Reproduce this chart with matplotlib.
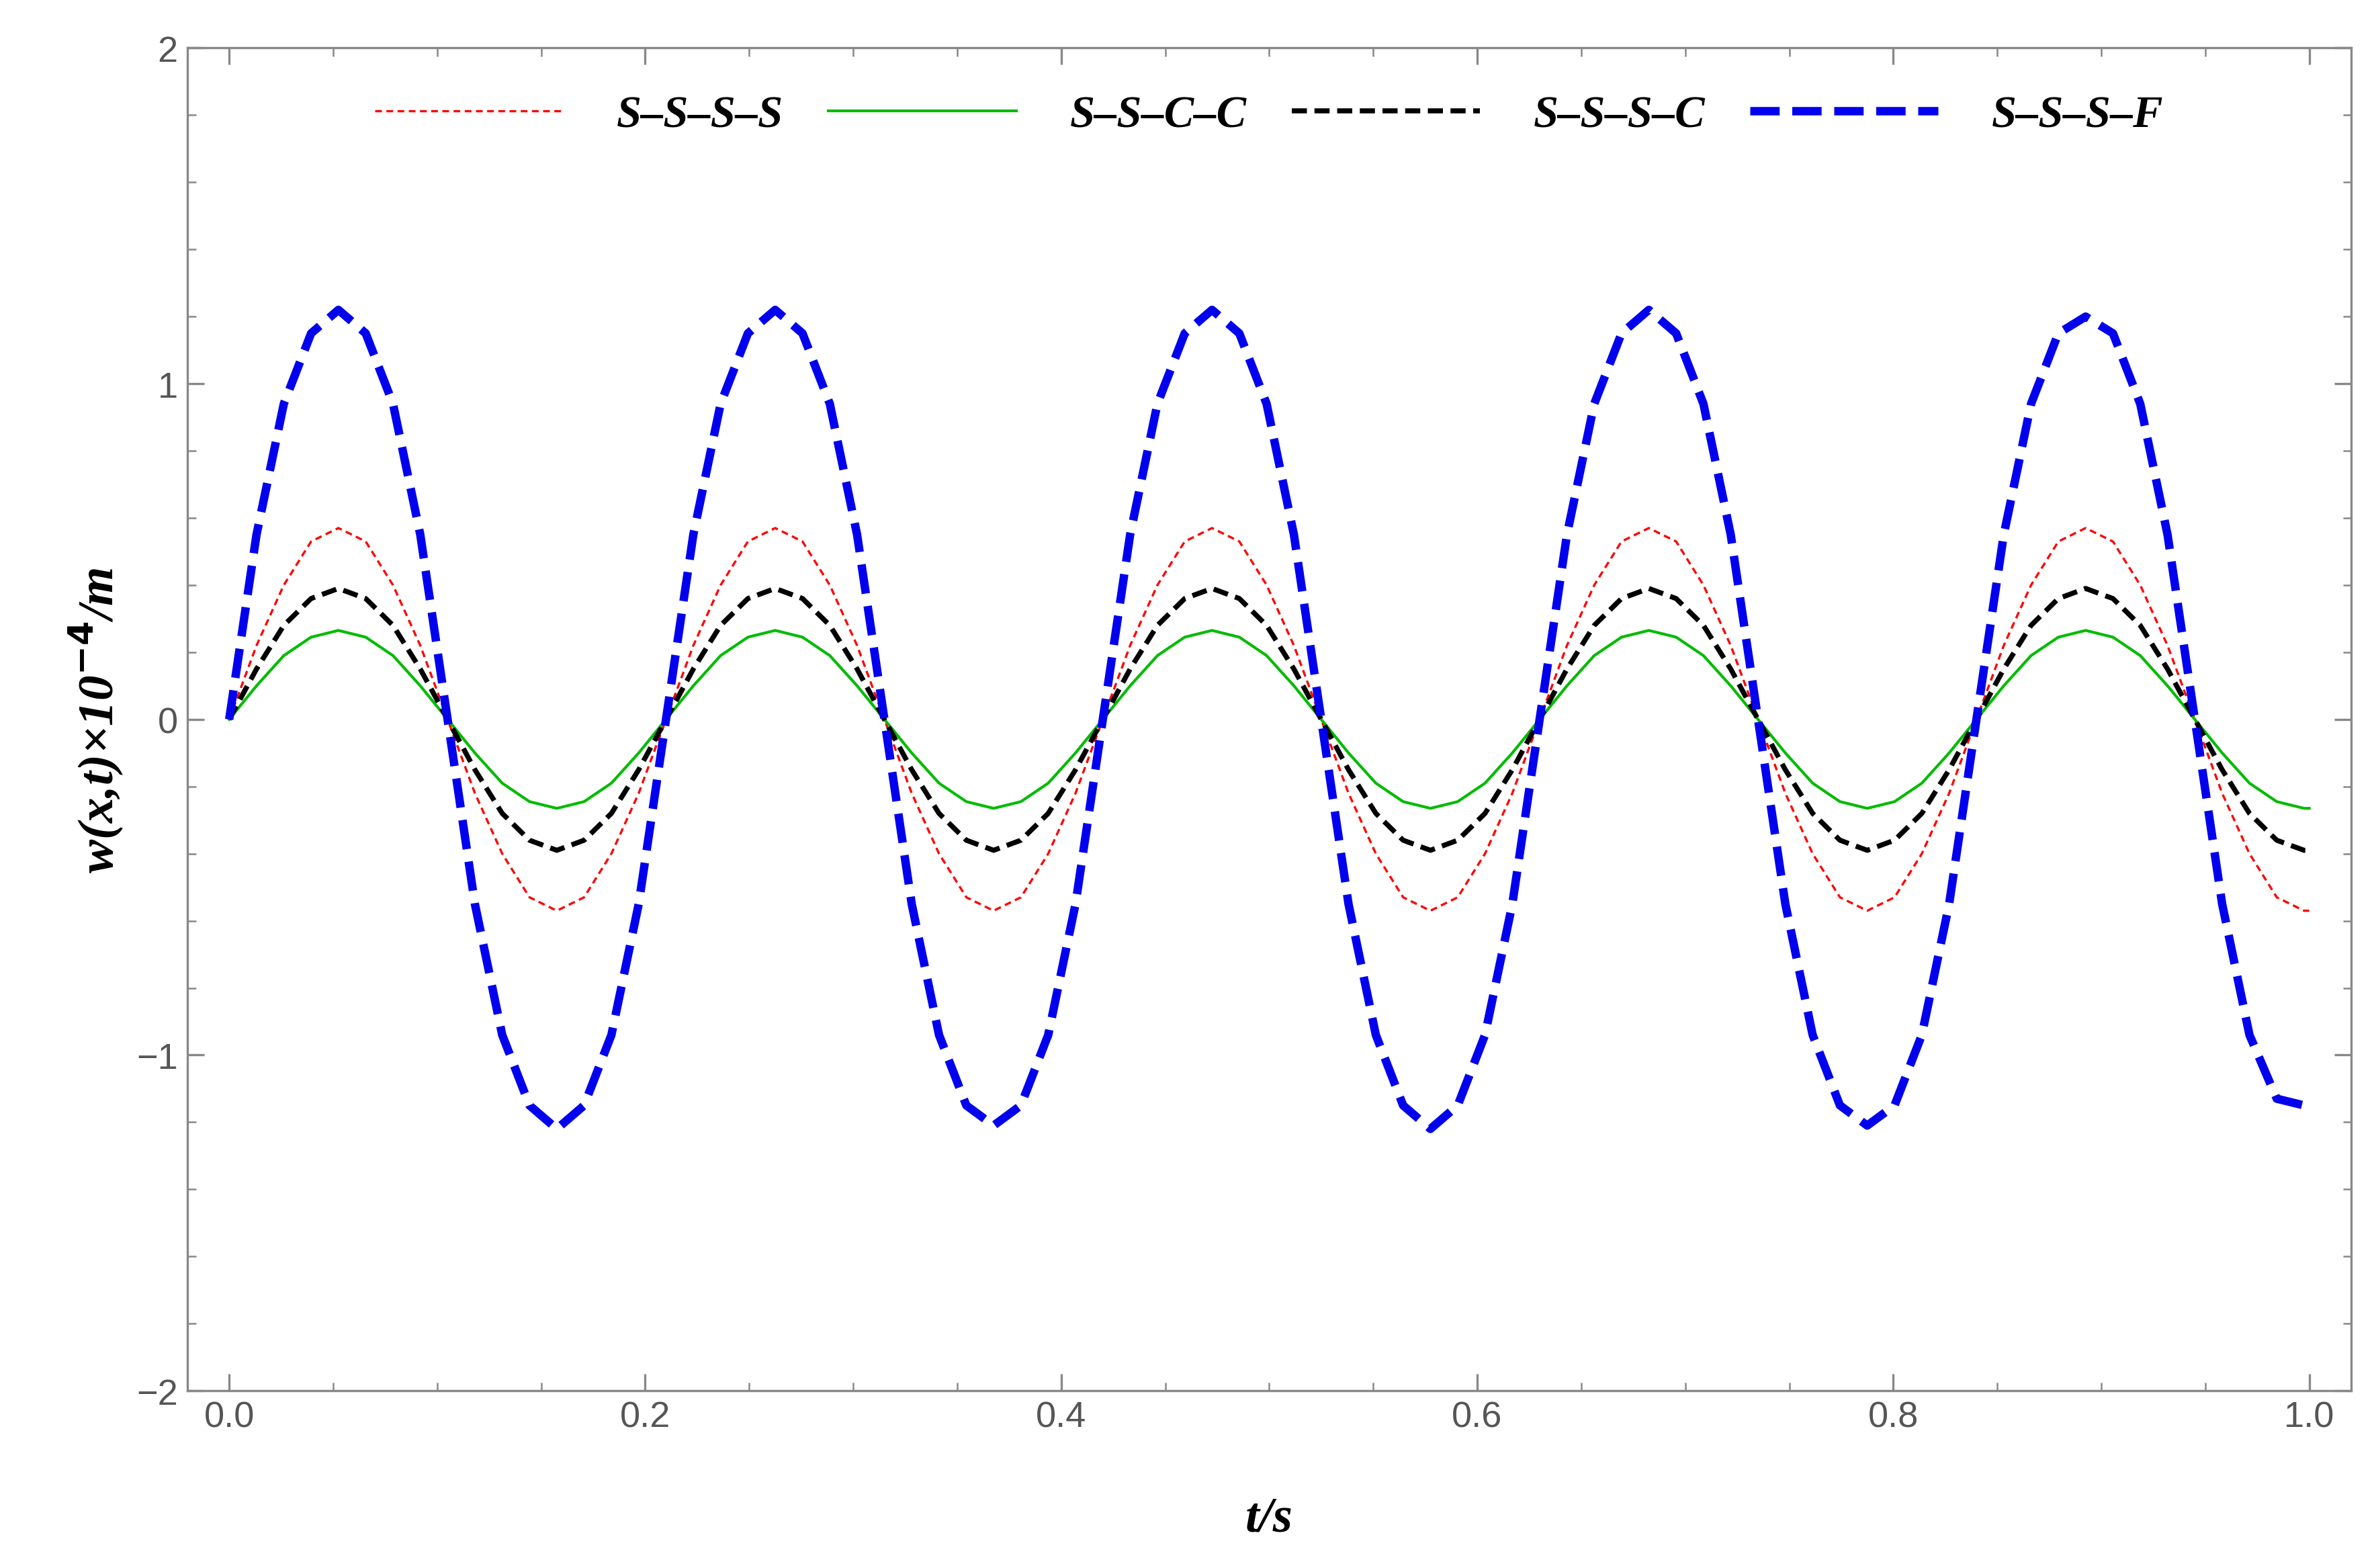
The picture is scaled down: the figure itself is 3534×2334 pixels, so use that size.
import numpy as np
import matplotlib.pyplot as plt
from matplotlib.ticker import MultipleLocator

# time samples (s)
t = np.append(np.arange(0, 0.998, 0.013125), 1.0)

# deflection values (x1e-4 m)
w_sss_s = [0, .22, .40, .53, .57, .53, .40, .22, 0, -.22, -.40, -.53, -.57, -.53, -.40, -.22,
           0, .22, .40, .53, .57, .53, .40, .22, 0, -.22, -.40, -.53, -.57, -.53, -.40, -.22,
           0, .22, .40, .53, .57, .53, .40, .22, 0, -.22, -.40, -.53, -.57, -.53, -.40, -.22,
           0, .22, .40, .53, .57, .53, .40, .22, 0, -.22, -.40, -.53, -.57, -.53, -.40, -.22,
           0, .22, .40, .53, .57, .53, .40, .22, 0, -.22, -.40, -.53, -.57, -.57]
w_ssc_c = [0, .10, .19, .245, .265, .245, .19, .10, 0, -.10, -.19, -.245, -.265, -.245, -.19, -.10,
           0, .10, .19, .245, .265, .245, .19, .10, 0, -.10, -.19, -.245, -.265, -.245, -.19, -.10,
           0, .10, .19, .245, .265, .245, .19, .10, 0, -.10, -.19, -.245, -.265, -.245, -.19, -.10,
           0, .10, .19, .245, .265, .245, .19, .10, 0, -.10, -.19, -.245, -.265, -.245, -.19, -.10,
           0, .10, .19, .245, .265, .245, .19, .10, 0, -.10, -.19, -.245, -.265, -.265]
w_sss_c = [0, .15, .28, .36, .39, .36, .28, .15, 0, -.15, -.28, -.36, -.39, -.36, -.28, -.15,
           0, .15, .28, .36, .39, .36, .28, .15, 0, -.15, -.28, -.36, -.39, -.36, -.28, -.15,
           0, .15, .28, .36, .39, .36, .28, .15, 0, -.15, -.28, -.36, -.39, -.36, -.28, -.15,
           0, .15, .28, .36, .39, .36, .28, .15, 0, -.15, -.28, -.36, -.39, -.36, -.28, -.15,
           0, .15, .28, .36, .39, .36, .28, .15, 0, -.15, -.28, -.36, -.39, -.39]
w_sss_f = [0, .55, .94, 1.15, 1.22, 1.15, .94, .55, 0, -.55, -.94, -1.15, -1.22, -1.15, -.94, -.55,
           0, .55, .94, 1.15, 1.22, 1.15, .94, .55, 0, -.55, -.94, -1.15, -1.21, -1.15, -.94, -.55,
           0, .55, .94, 1.15, 1.22, 1.15, .94, .55, 0, -.55, -.94, -1.15, -1.22, -1.15, -.94, -.55,
           0, .55, .94, 1.15, 1.22, 1.15, .94, .55, 0, -.55, -.94, -1.15, -1.21, -1.15, -.94, -.55,
           0, .55, .94, 1.15, 1.20, 1.15, .94, .55, 0, -.55, -.94, -1.13, -1.15, -1.16]

labels = ['S–S–S–S', 'S–S–C–C', 'S–S–S–C', 'S–S–S–F']

fig = plt.figure(figsize=(11.783, 7.783), dpi=300)
ax = fig.add_axes([0.079, 0.113, 0.911, 0.856])

ax.plot(t, w_sss_s, color='red', lw=0.8, dashes=(3, 2), label=labels[0])
ax.plot(t, w_ssc_c, color='#00bb00', lw=1.0, label=labels[1])
ax.plot(t, w_sss_c, color='black', lw=1.8, dashes=(3, 1.5), label=labels[2])
ax.plot(t, w_sss_f, color='#0000ee', lw=3.0, dashes=(3.5, 1.5), label=labels[3])

ax.set_xlim(-0.02, 1.02)
ax.set_ylim(-2, 2)
ax.xaxis.set_major_locator(MultipleLocator(0.2))
ax.xaxis.set_minor_locator(MultipleLocator(0.05))
ax.yaxis.set_major_locator(MultipleLocator(1))
ax.yaxis.set_minor_locator(MultipleLocator(0.2))
ax.set_xticks([0, 0.2, 0.4, 0.6, 0.8, 1.0])
ax.set_xticklabels(['0.0', '0.2', '0.4', '0.6', '0.8', '1.0'])
ax.set_yticks([-2, -1, 0, 1, 2])
ax.set_yticklabels(['−2', '−1', '0', '1', '2'])

for s in ax.spines.values():
    s.set_color('#888888')
    s.set_linewidth(0.8)
ax.tick_params(which='both', direction='in', top=True, right=True, colors='#888888',
               labelcolor='#555555', labelsize=13)
ax.tick_params(which='major', length=6)
ax.tick_params(which='minor', length=3)
for lab in ax.get_xticklabels() + ax.get_yticklabels():
    lab.set_family('Liberation Sans')

ax.set_xlabel('t/s', family='Liberation Serif', fontsize=18, fontweight='bold',
              style='italic', labelpad=22)
ax.set_ylabel(r'w(x,t)×10$^{\mathbf{-4}}$/m', family='Liberation Serif', fontsize=18,
              fontweight='bold', style='italic', labelpad=4)

ax.legend(loc='upper center', ncol=4, frameon=False, handlelength=4.2,
          handletextpad=1.2, columnspacing=1.0, bbox_to_anchor=(0.5, 0.995),
          prop={'family': 'Liberation Serif', 'size': 16, 'weight': 'bold', 'style': 'italic'})

fig.savefig('out.png', dpi=300)
